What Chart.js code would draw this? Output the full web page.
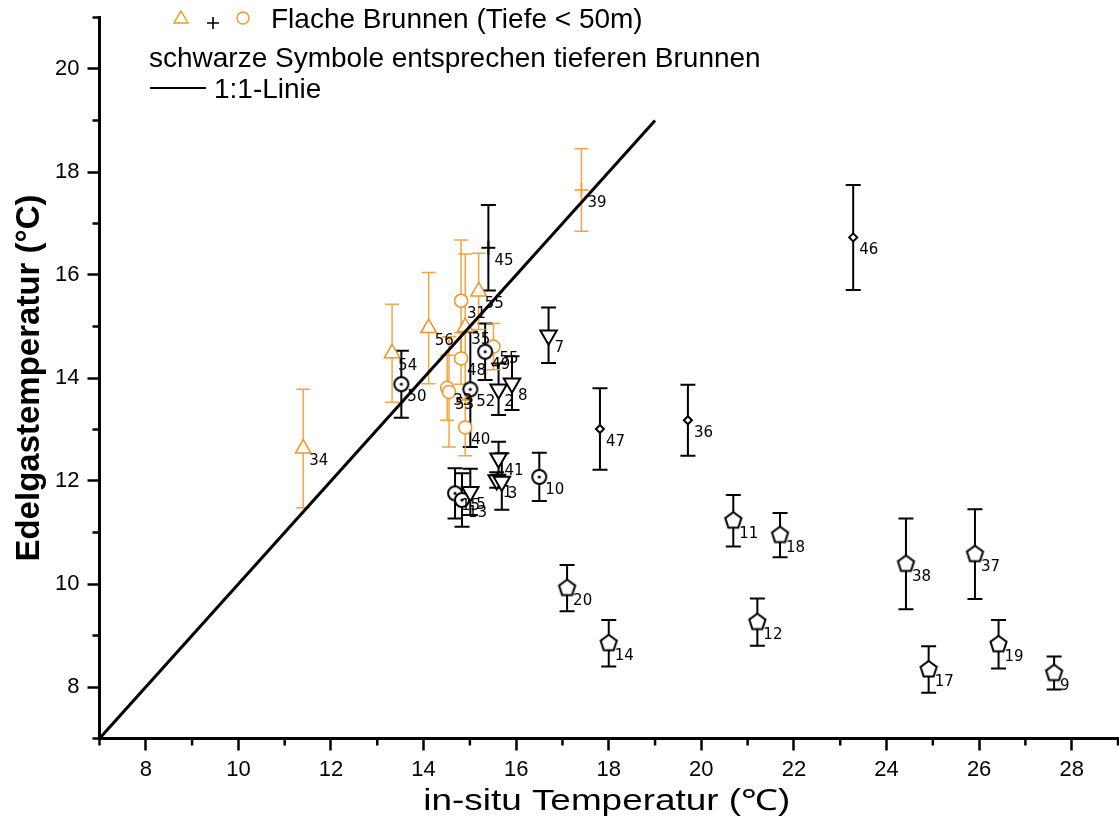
<!DOCTYPE html>
<html>
<head>
<meta charset="utf-8">
<script src="https://cdn.jsdelivr.net/npm/chart.js@4/dist/chart.umd.min.js"></script>
<style>
  html, body { margin: 0; padding: 0; background: #fff; }
</style>
</head>
<body>
<canvas id="chart" width="1119" height="822"></canvas>
<script>
// ---- data ----
const xTicks = [8, 10, 12, 14, 16, 18, 20, 22, 24, 26, 28];
const yTicks = [8, 10, 12, 14, 16, 18, 20];

// 1:1 line
const lineX = [7, 19];
const lineY = [7, 19];

// shallow wells (orange) - triangles
const shTriX   = [11.40, 13.32, 14.11, 14.90, 15.19];
const shTriY   = [12.63, 14.48, 14.97, 14.99, 15.68];
const shTriErr = [1.15, 0.95, 1.08, 1.42, 0.74];
const shTriLbl = ['34', '54', '56', '35', '55'];

// shallow wells (orange) - circles
const shCircX   = [14.81, 14.81, 14.51, 14.55, 14.90, 15.51];
const shCircY   = [15.50, 14.38, 13.81, 13.73, 13.04, 14.61];
const shCircErr = [1.18, 0.50, 0.63, 1.07, 0.55, 0.45];
const shCircLbl = ['31', '48', '33', '53', '40', '55'];

// shallow wells (orange) - plus
const shPlusX   = [17.41];
const shPlusY   = [17.65];
const shPlusErr = [0.80];
const shPlusLbl = ['39'];

// deep wells (black) - plus
const dPlusX   = [15.40];
const dPlusY   = [16.53];
const dPlusErr = [0.83];
const dPlusLbl = ['45'];

// deep wells - circle with dot
const dCircX   = [13.52, 15.33, 15.01, 14.68, 14.83, 16.50];
const dCircY   = [13.88, 14.51, 13.78, 11.76, 11.63, 12.08];
const dCircErr = [0.65, 0.55, 1.12, 0.49, 0.52, 0.47];
const dCircLbl = ['50', '49', '52', '15', '13', '10'];

// deep wells - down triangles
const dTriX   = [16.70, 15.62, 15.91, 15.62, 15.58, 15.69, 15.01];
const dTriY   = [14.83, 13.78, 13.90, 12.44, 12.02, 11.99, 11.79];
const dTriErr = [0.54, 0.50, 0.52, 0.32, 0.15, 0.55, 0.45];
const dTriLbl = ['7', '2', '8', '41', '1', '3', '5'];

// deep wells - small diamonds
const dDiaX   = [17.81, 19.71, 23.28];
const dDiaY   = [13.01, 13.18, 16.73];
const dDiaErr = [0.79, 0.69, 1.02];
const dDiaLbl = ['47', '36', '46'];

// deep wells - pentagons
const dPentX   = [20.69, 21.70, 21.21, 24.42, 25.91, 24.91, 26.42, 27.62, 17.10, 18.00];
const dPentY   = [11.23, 10.95, 9.26, 10.39, 10.58, 8.34, 8.83, 8.27, 9.92, 8.85];
const dPentErr = [0.50, 0.43, 0.46, 0.88, 0.87, 0.45, 0.47, 0.32, 0.45, 0.45];
const dPentLbl = ['11', '18', '12', '38', '37', '17', '19', '9', '20', '14'];

const xTitle = 'in-situ Temperatur (℃)';
const yTitle = 'Edelgastemperatur (°C)';

const ORANGE = 'rgb(247,147,35)';
const ORANGE_BAR = 'rgba(247,147,35,0.85)';

function pts(xs, ys, errs, lbls) {
  return xs.map((x, i) => ({ x: x, y: ys[i], err: errs[i], label: lbls[i] }));
}

// custom marker images
function pentagonImg(r, lw) {
  const s = Math.ceil(2 * r + lw + 4);
  const c = document.createElement('canvas');
  c.width = s; c.height = s;
  const g = c.getContext('2d');
  g.beginPath();
  for (let k = 0; k < 5; k++) {
    const a = -Math.PI / 2 + k * 2 * Math.PI / 5;
    const px = s / 2 + r * Math.cos(a), py = s / 2 + r * Math.sin(a);
    if (k === 0) g.moveTo(px, py); else g.lineTo(px, py);
  }
  g.closePath();
  g.fillStyle = '#fff'; g.fill();
  g.lineWidth = lw; g.strokeStyle = '#000'; g.stroke();
  return c;
}
function circleDotImg(r, lw) {
  const s = Math.ceil(2 * r + lw + 4);
  const c = document.createElement('canvas');
  c.width = s; c.height = s;
  const g = c.getContext('2d');
  g.beginPath(); g.arc(s / 2, s / 2, r, 0, Math.PI * 2);
  g.fillStyle = '#fff'; g.fill();
  g.lineWidth = lw; g.strokeStyle = '#000'; g.stroke();
  g.beginPath(); g.arc(s / 2, s / 2, 1.6, 0, Math.PI * 2);
  g.fillStyle = '#000'; g.fill();
  return c;
}

// error bars drawn under the markers
const errorBars = {
  id: 'errorBars',
  beforeDatasetsDraw(chart) {
    const ctx = chart.ctx;
    const ys = chart.scales.y;
    chart.data.datasets.forEach((ds, di) => {
      if (!ds.barColor) return;
      const meta = chart.getDatasetMeta(di);
      ctx.save();
      ctx.strokeStyle = ds.barColor;
      ctx.lineWidth = ds.barWidth;
      meta.data.forEach((el, i) => {
        const d = ds.data[i];
        if (!d.err) return;
        const top = ys.getPixelForValue(d.y + d.err);
        const bot = ys.getPixelForValue(d.y - d.err);
        const w = ds.capWidth / 2;
        ctx.beginPath();
        ctx.moveTo(el.x, top); ctx.lineTo(el.x, bot);
        ctx.moveTo(el.x - w, top); ctx.lineTo(el.x + w, top);
        ctx.moveTo(el.x - w, bot); ctx.lineTo(el.x + w, bot);
        ctx.stroke();
      });
      ctx.restore();
    });
  }
};

// point numbers, minor ticks, x title and legend text
const decorations = {
  id: 'decorations',
  afterDatasetsDraw(chart) {
    const ctx = chart.ctx;
    ctx.save();
    ctx.font = '15px "DejaVu Sans"';
    ctx.fillStyle = '#000';
    ctx.textBaseline = 'middle';
    ctx.textAlign = 'left';
    chart.data.datasets.forEach((ds, di) => {
      if (!ds.barColor) return;
      const meta = chart.getDatasetMeta(di);
      meta.data.forEach((el, i) => {
        ctx.fillText(ds.data[i].label, el.x + 6, el.y + 13);
      });
    });
    ctx.restore();
  },
  afterDraw(chart) {
    const ctx = chart.ctx;
    const xs = chart.scales.x, ys = chart.scales.y;
    const area = chart.chartArea;
    ctx.save();
    ctx.strokeStyle = '#000';
    ctx.lineWidth = 2.5;
    ctx.beginPath();
    for (let v = 7; v <= 29; v += 2) {
      const px = xs.getPixelForValue(v);
      ctx.moveTo(px, area.bottom); ctx.lineTo(px, area.bottom + 7);
    }
    for (let v = 7; v <= 21; v += 2) {
      const py = ys.getPixelForValue(v);
      ctx.moveTo(area.left, py); ctx.lineTo(area.left - 7, py);
    }
    ctx.stroke();

    // x axis title, stretched a little like the original
    ctx.fillStyle = '#000';
    ctx.font = '29px "Liberation Sans"';
    ctx.textAlign = 'center';
    ctx.textBaseline = 'middle';
    const tw = ctx.measureText(xTitle).width;
    ctx.save();
    ctx.translate((area.left + area.right) / 2 - 2, 802);
    ctx.scale(367 / tw, 1);
    ctx.fillText(xTitle, 0, 0);
    ctx.restore();

    // legend
    ctx.textAlign = 'left';
    ctx.font = '28px "Liberation Sans"';
    ctx.textBaseline = 'alphabetic';
    ctx.fillText('Flache Brunnen (Tiefe < 50m)', 271, 28);
    ctx.fillText('schwarze Symbole entsprechen tieferen Brunnen', 149, 67);
    ctx.fillText('1:1-Linie', 214, 98);
    ctx.lineWidth = 2;
    ctx.beginPath(); ctx.moveTo(150, 88); ctx.lineTo(206, 88); ctx.stroke();
    ctx.lineWidth = 1.6;
    ctx.beginPath(); ctx.moveTo(207, 23); ctx.lineTo(219, 23);
    ctx.moveTo(213, 17); ctx.lineTo(213, 29); ctx.stroke();
    ctx.strokeStyle = ORANGE;
    ctx.lineWidth = 1.4;
    ctx.beginPath(); ctx.moveTo(181, 11); ctx.lineTo(188, 23); ctx.lineTo(174, 23); ctx.closePath(); ctx.stroke();
    ctx.beginPath(); ctx.arc(243, 18, 6, 0, Math.PI * 2); ctx.stroke();
    ctx.restore();
  }
};

const pentImg = pentagonImg(8.5, 2);
const dotImg = circleDotImg(7, 2);

const shallow = { barColor: ORANGE_BAR, barWidth: 1.5, capWidth: 14, borderColor: ORANGE, backgroundColor: '#fff', borderWidth: 1.5 };
const deep = { barColor: '#000', barWidth: 2, capWidth: 15, borderColor: '#000', backgroundColor: '#fff', borderWidth: 2 };

new Chart(document.getElementById('chart'), {
  type: 'scatter',
  data: {
    datasets: [
      { type: 'line', data: lineX.map((x, i) => ({ x: x, y: lineY[i] })), borderColor: '#000', borderWidth: 3, pointRadius: 0, fill: false },
      Object.assign({ data: pts(dPentX, dPentY, dPentErr, dPentLbl), pointStyle: pentImg }, deep),
      Object.assign({ data: pts(dDiaX, dDiaY, dDiaErr, dDiaLbl), pointStyle: 'rectRot', pointRadius: 4 }, deep),
      Object.assign({ data: pts(dTriX, dTriY, dTriErr, dTriLbl), pointStyle: 'triangle', pointRadius: 9.5, rotation: 180 }, deep),
      Object.assign({ data: pts(dCircX, dCircY, dCircErr, dCircLbl), pointStyle: dotImg }, deep),
      Object.assign({ data: pts(dPlusX, dPlusY, dPlusErr, dPlusLbl), pointStyle: 'cross', pointRadius: 7 }, deep),
      Object.assign({ data: pts(shPlusX, shPlusY, shPlusErr, shPlusLbl), pointStyle: 'cross', pointRadius: 7 }, shallow),
      Object.assign({ data: pts(shCircX, shCircY, shCircErr, shCircLbl), pointStyle: 'circle', pointRadius: 6.5 }, shallow),
      Object.assign({ data: pts(shTriX, shTriY, shTriErr, shTriLbl), pointStyle: 'triangle', pointRadius: 9 }, shallow)
    ]
  },
  options: {
    responsive: false,
    animation: false,
    devicePixelRatio: 1,
    events: [],
    layout: { autoPadding: false, padding: { top: 17.5, right: 1, left: 0, bottom: 0 } },
    plugins: { legend: { display: false }, tooltip: { enabled: false } },
    scales: {
      x: {
        type: 'linear', min: 7, max: 29,
        afterBuildTicks: s => { s.ticks = xTicks.map(v => ({ value: v })); },
        afterFit: s => { s.height = 83.5; s.paddingLeft = 0; s.paddingRight = 0; },
        grid: { drawOnChartArea: false, drawTicks: true, tickLength: 12, tickWidth: 2.5, tickColor: '#000' },
        border: { display: true, color: '#000', width: 3 },
        ticks: { color: '#000', padding: 6, maxRotation: 0, font: { family: 'Liberation Sans', size: 22 } },
        title: { display: false }
      },
      y: {
        type: 'linear', min: 7, max: 21,
        afterBuildTicks: s => { s.ticks = yTicks.map(v => ({ value: v })); },
        afterFit: s => { s.width = 99.5; s.paddingTop = 0; s.paddingBottom = 0; },
        grid: { drawOnChartArea: false, drawTicks: true, tickLength: 12, tickWidth: 2.5, tickColor: '#000' },
        border: { display: true, color: '#000', width: 3 },
        ticks: { color: '#000', padding: 8, font: { family: 'Liberation Sans', size: 22 } },
        title: { display: true, text: yTitle, color: '#000', padding: { top: 10, bottom: 0 }, font: { family: 'Liberation Sans', size: 33, weight: 'bold' } }
      }
    }
  },
  plugins: [errorBars, decorations]
});
</script>
</body>
</html>
